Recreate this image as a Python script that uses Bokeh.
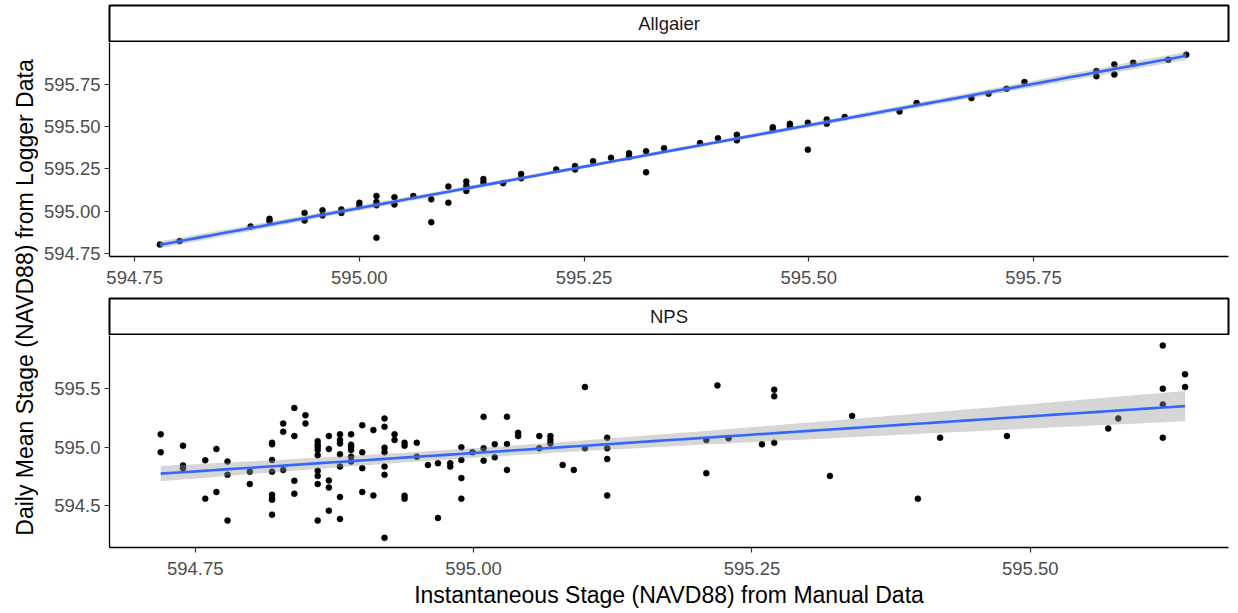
import numpy as np
from bokeh.plotting import figure
from bokeh.layouts import row, column
from bokeh.models import Label, FixedTicker, PrintfTickFormatter, Range1d
from bokeh.embed import file_html
from bokeh.resources import INLINE

FONT = "Liberation Sans"

# ---------------- data ----------------
strip_labels = ["Allgaier", "NPS"]
x_label = "Instantaneous Stage (NAVD88) from Manual Data"
y_label = "Daily Mean Stage (NAVD88) from Logger Data"

allg_x = [594.778, 594.800, 594.879, 594.900, 594.900, 594.939, 594.939, 594.959, 594.959,
          594.980, 594.980, 595.000, 595.000, 595.019, 595.019, 595.019, 595.019, 595.039,
          595.039, 595.060, 595.080, 595.080, 595.099, 595.099, 595.119, 595.119, 595.119,
          595.138, 595.138, 595.160, 595.180, 595.180, 595.219, 595.240, 595.240, 595.260,
          595.280, 595.300, 595.300, 595.319, 595.319, 595.339, 595.379, 595.399, 595.420,
          595.420, 595.460, 595.460, 595.479, 595.479, 595.499, 595.499, 595.520, 595.520,
          595.540, 595.601, 595.620, 595.681, 595.700, 595.720, 595.740, 595.820, 595.820,
          595.840, 595.840, 595.861, 595.900, 595.920]
allg_y = [594.803, 594.823, 594.910, 594.955, 594.940, 594.990, 594.945, 595.005, 594.975,
          595.010, 594.990, 595.050, 595.030, 595.090, 595.055, 595.035, 594.843, 595.083,
          595.040, 595.090, 595.070, 594.935, 595.146, 595.050, 595.176, 595.150, 595.120,
          595.190, 595.170, 595.166, 595.220, 595.195, 595.247, 595.267, 595.247, 595.296,
          595.316, 595.343, 595.320, 595.355, 595.230, 595.373, 595.403, 595.432, 595.452,
          595.419, 595.497, 595.484, 595.517, 595.503, 595.523, 595.364, 595.543, 595.517,
          595.557, 595.590, 595.640, 595.669, 595.695, 595.724, 595.764, 595.829, 595.799,
          595.868, 595.809, 595.878, 595.896, 595.926]

nps_x = [594.719, 594.719,
         594.739, 594.739, 594.739,
         594.759, 594.759,
         594.769, 594.769,
         594.779, 594.779, 594.779,
         594.799, 594.799,
         594.819, 594.819, 594.819, 594.819, 594.819, 594.819, 594.819, 594.819,
         594.829, 594.829, 594.829,
         594.839, 594.839, 594.839, 594.839,
         594.849, 594.849,
         594.860, 594.860, 594.860, 594.860, 594.860, 594.860, 594.860, 594.860, 594.860,
         594.870, 594.870, 594.870, 594.870, 594.870,
         594.880, 594.880, 594.880, 594.880, 594.880, 594.880, 594.880,
         594.890, 594.890, 594.890, 594.890, 594.890, 594.890,
         594.900, 594.900, 594.900, 594.900,
         594.910, 594.910,
         594.920, 594.920, 594.920, 594.920, 594.920, 594.920, 594.920,
         594.929, 594.929,
         594.938, 594.938, 594.938, 594.938,
         594.949, 594.949,
         594.959,
         594.968, 594.968,
         594.979, 594.979,
         594.989, 594.989, 594.989, 594.989,
         594.999,
         595.009, 595.009, 595.009,
         595.019, 595.019,
         595.030, 595.030, 595.030,
         595.040, 595.040,
         595.059, 595.059,
         595.069, 595.069, 595.069,
         595.080,
         595.090,
         595.100, 595.100,
         595.120, 595.120, 595.120, 595.120,
         595.209, 595.209,
         595.219,
         595.229,
         595.259,
         595.270, 595.270, 595.270,
         595.320,
         595.340,
         595.399,
         595.419,
         595.479,
         595.570,
         595.579,
         595.619, 595.619, 595.619, 595.619,
         595.639, 595.639]
nps_y = [595.108, 594.955,
         595.011, 594.842, 594.820,
         594.887, 594.560,
         594.983, 594.616,
         594.876, 594.763, 594.373,
         594.790, 594.684,
         595.036, 595.023, 594.890, 594.790, 594.593, 594.565, 594.551, 594.424,
         595.200, 595.130, 594.805,
         595.333, 595.093, 594.712, 594.602,
         595.271, 595.200,
         595.050, 595.020, 595.000, 594.975, 594.930, 594.797, 594.754, 594.684, 594.373,
         595.093, 594.983, 594.714, 594.655, 594.458,
         595.108, 595.060, 595.030, 594.938, 594.833, 594.574, 594.387,
         595.108, 595.020, 595.000, 594.975, 594.918, 594.876,
         595.186, 594.955, 594.820, 594.616,
         595.144, 594.587,
         595.243, 595.172, 594.994, 594.955, 594.833, 594.763, 594.226,
         595.108, 595.060,
         595.036, 595.011, 594.585, 594.560,
         595.036, 594.918,
         594.847,
         594.862, 594.396,
         594.862, 594.833,
         594.997, 594.890, 594.735, 594.560,
         594.955,
         595.257, 594.989, 594.884,
         595.023, 594.912,
         595.257, 595.025, 594.805,
         595.121, 595.093,
         595.093, 594.989,
         595.093, 595.060, 595.030,
         594.847,
         594.805,
         595.511, 594.989,
         595.079, 594.989, 594.898, 594.587,
         595.060, 594.777,
         595.525,
         595.074,
         595.023,
         595.488, 595.432, 595.036,
         594.754,
         595.265,
         594.560,
         595.079,
         595.093,
         595.158,
         595.243,
         595.864, 595.497, 595.362, 595.079,
         595.619, 595.511]

top_ticks = [594.75, 595.00, 595.25, 595.50, 595.75]
bot_xticks = [594.75, 595.00, 595.25, 595.50]
bot_yticks = [594.5, 595.0, 595.5]


def lm_band(x, y, n=80, t=1.98):
    x = np.asarray(x, float)
    y = np.asarray(y, float)
    b, a = np.polyfit(x, y, 1)
    xs = np.linspace(x.min(), x.max(), n)
    yhat = a + b * xs
    resid = y - (a + b * x)
    s = np.sqrt((resid ** 2).sum() / (len(x) - 2))
    sxx = ((x - x.mean()) ** 2).sum()
    se = s * np.sqrt(1.0 / len(x) + (xs - x.mean()) ** 2 / sxx)
    return xs, yhat, yhat - t * se, yhat + t * se


LEFT, RIGHT, FW = 71, 2, 1119
W = LEFT + FW + RIGHT


def strip(text, h, top):
    p = figure(width=W, height=h, x_range=(0, 1), y_range=(0, 1),
               x_axis_type=None, y_axis_type=None,
               output_backend="svg", toolbar_location=None,
               min_border_left=LEFT, min_border_right=RIGHT,
               min_border_top=top, min_border_bottom=1)
    p.grid.visible = False
    p.outline_line_color = "black"
    p.outline_line_width = 2
    p.background_fill_color = "white"
    p.border_fill_color = "white"
    p.add_layout(Label(x=0.5, y=0.5, text=text, text_align="center",
                       text_baseline="middle", text_font=FONT,
                       text_font_size="18.5px", text_color="#1A1A1A"))
    return p


def panel(x, y, xr, yr, xticks, yticks, fx, fy, h, bottom, xlabel=None):
    p = figure(width=W, height=h, x_range=Range1d(*xr), y_range=Range1d(*yr),
               output_backend="svg", toolbar_location=None,
               min_border_left=LEFT, min_border_right=RIGHT,
               min_border_top=0, min_border_bottom=bottom)
    p.outline_line_color = None
    p.grid.visible = False
    p.background_fill_color = "white"
    p.border_fill_color = "white"
    p.scatter(x, y, size=6, fill_color="black", line_color="black", line_width=0.5)
    xs, yh, lo, hi = lm_band(x, y)
    p.varea(x=xs, y1=lo, y2=hi, fill_color="#999999", fill_alpha=0.4)
    p.line(xs, yh, line_color="#3366FF", line_width=2.6)
    for ax in (p.xaxis[0], p.yaxis[0]):
        ax.axis_line_color = "black"
        ax.axis_line_width = 1.3
        ax.major_tick_line_color = "#333333"
        ax.major_tick_line_width = 1.2
        ax.major_tick_out = 5
        ax.major_tick_in = 0
        ax.minor_tick_line_color = None
        ax.major_label_text_font = FONT
        ax.major_label_text_font_size = "18.5px"
        ax.major_label_text_color = "#4D4D4D"
    p.xaxis.ticker = FixedTicker(ticks=xticks)
    p.yaxis.ticker = FixedTicker(ticks=yticks)
    p.xaxis.formatter = PrintfTickFormatter(format=fx)
    p.yaxis.formatter = PrintfTickFormatter(format=fy)
    p.xaxis.major_label_standoff = 9
    p.yaxis.major_label_standoff = 4
    if xlabel:
        p.xaxis.axis_label = xlabel
        p.xaxis.axis_label_text_font = FONT
        p.xaxis.axis_label_text_font_size = "23px"
        p.xaxis.axis_label_text_font_style = "normal"
        p.xaxis.axis_label_text_color = "black"
        p.xaxis.axis_label_standoff = 4
    return p


s1 = strip(strip_labels[0], 42, 5)
p1 = panel(allg_x, allg_y, (594.722, 595.967), (594.732, 595.998),
           top_ticks, top_ticks, "%.2f", "%.2f", 255, 41)
s2 = strip(strip_labels[1], 38, 1)
p2 = panel(nps_x, nps_y, (594.673, 595.678), (594.144, 595.95),
           bot_xticks, bot_yticks, "%.2f", "%.1f", 275, 62, xlabel=x_label)

TOTAL_H = 42 + 255 + 38 + 275
LABW = 38
ylab = figure(width=LABW, height=TOTAL_H, x_range=(0, 1), y_range=(0, 1),
              x_axis_type=None, y_axis_type=None,
              output_backend="svg", toolbar_location=None,
              min_border_left=0, min_border_right=0, min_border_top=0, min_border_bottom=0)
ylab.outline_line_color = None
ylab.grid.visible = False
ylab.border_fill_color = "white"
ylab.add_layout(Label(x=24 / LABW, y=(TOTAL_H - 297) / TOTAL_H, text=y_label, angle=np.pi / 2,
                      text_align="center", text_baseline="middle", text_font=FONT,
                      text_font_size="23px", text_color="black"))

layout = row(ylab, column(s1, p1, s2, p2))

open("out.html", "w").write(file_html(layout, INLINE))
